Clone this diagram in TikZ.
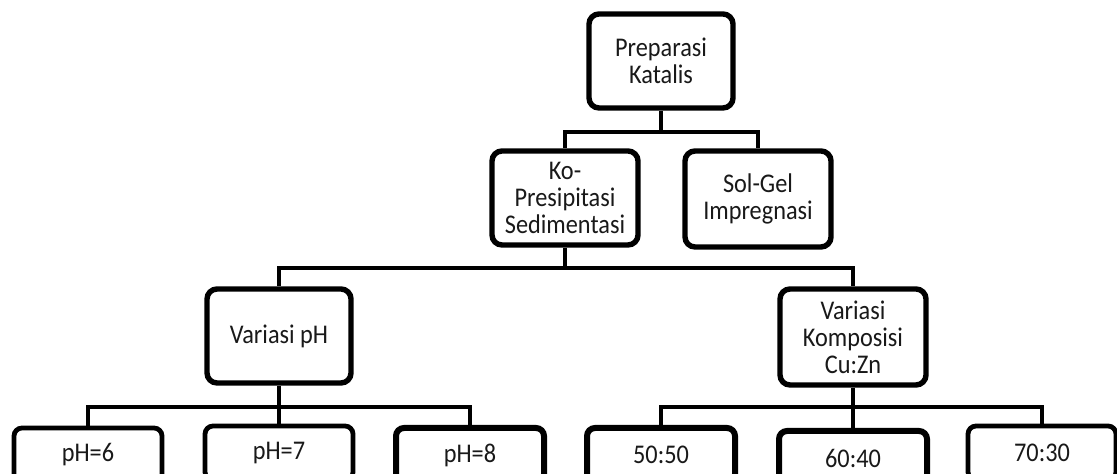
\documentclass[tikz,border=0pt]{standalone}
\usepackage{fontspec}
\setmainfont{Carlito}[FakeStretch=0.9]

\begin{document}
\begin{tikzpicture}[
  x=0.5pt, y=-0.5pt,
  every node/.style={align=center, font=\fontsize{13.5}{13.5}\selectfont, text=black!90},
  stage/.style={rectangle, draw, line width=2.7pt, rounded corners=5pt, fill=white, inner sep=1pt},
  leaf/.style={rectangle, draw, line width=2.4pt, rounded corners=4pt, fill=white, minimum width=74pt, minimum height=27pt},
  conn/.style={draw, line width=2.2pt, line join=miter}
]
\useasboundingbox (0,0) rectangle (1117,474);

% Root
\node[stage, minimum width=72pt, minimum height=47pt] (prep) at (661,61) {Preparasi\\Katalis};

% Methods
\node[stage, minimum width=73pt, minimum height=47pt] (kopre) at (565,198) {Ko-\\Presipitasi\\Sedimentasi};
\node[stage, minimum width=73pt, minimum height=48pt] (solgel) at (758,199) {Sol-Gel\\Impregnasi};

% Variations
\node[stage, minimum width=72pt, minimum height=47pt] (varph) at (279,336) {Variasi pH};
\node[stage, minimum width=73pt, minimum height=48pt] (varkomp) at (853,337) {Variasi\\Komposisi\\Cu:Zn};

% pH values
\node[leaf] (ph6) at (88,455) {pH=6};
\node[leaf] (ph7) at (279,453) {pH=7};
\node[leaf, line width=3pt] (ph8) at (470,455) {pH=8};

% Cu:Zn ratios
\node[leaf, line width=3pt] (r50) at (661,455) {50:50};
\node[leaf, line width=3pt] (r60) at (853,458) {60:40};
\node[leaf] (r70) at (1042,453) {70:30};

% Bus points
\coordinate (bus1) at (661,132);
\coordinate (bus2) at (565,268);
\coordinate (bus3) at (279,407);
\coordinate (bus4) at (853,407);

% Connectors
\draw[conn] (prep) -- (bus1) -| (kopre);
\draw[conn] (bus1) -| (solgel);
\draw[conn] (kopre) -- (bus2) -| (varph);
\draw[conn] (bus2) -| (varkomp);
\draw[conn] (varph) -- (bus3) -| (ph6);
\draw[conn] (bus3) -- (ph7);
\draw[conn] (bus3) -| (ph8);
\draw[conn] (varkomp) -- (bus4) -| (r50);
\draw[conn] (bus4) -- (r60);
\draw[conn] (bus4) -| (r70);

\end{tikzpicture}
\end{document}
